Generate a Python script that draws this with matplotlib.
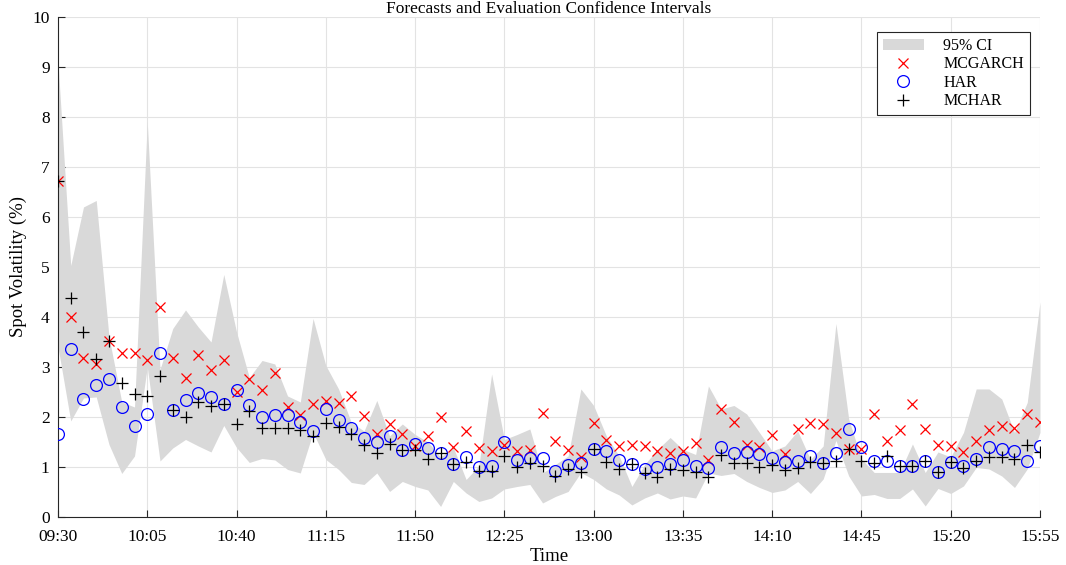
import numpy as np
import pandas as pd
import matplotlib
matplotlib.use("Agg")
import matplotlib.pyplot as plt
from matplotlib.patches import Patch
from matplotlib.lines import Line2D

# 5-minute intraday grid, 09:30 .. 15:55
times = pd.date_range("2000-01-01 09:30", "2000-01-01 15:55", freq="5min")
tick_labels = ["09:30", "10:05", "10:40", "11:15", "11:50", "12:25",
               "13:00", "13:35", "14:10", "14:45", "15:20", "15:55"]

mcgarch = [6.71, 3.99, 3.18, 3.05, 3.52, 3.27, 3.28, 3.13, 4.20, 3.18,
           2.77, 3.23, 2.93, 3.13, 2.49, 2.76, 2.54, 2.87, 2.20, 2.04,
           2.25, 2.31, 2.27, 2.41, 2.02, 1.65, 1.86, 1.65, 1.42, 1.62,
           1.99, 1.40, 1.72, 1.37, 1.32, 1.44, 1.32, 1.34, 2.08, 1.52,
           1.34, 1.20, 1.87, 1.54, 1.42, 1.44, 1.41, 1.32, 1.28, 1.32,
           1.47, 1.14, 2.15, 1.89, 1.43, 1.39, 1.63, 1.25, 1.76, 1.87,
           1.86, 1.68, 1.36, 1.36, 2.06, 1.51, 1.73, 2.26, 1.75, 1.44,
           1.42, 1.30, 1.51, 1.73, 1.81, 1.77, 2.06, 1.89]

har = [1.65, 3.36, 2.35, 2.63, 2.75, 2.19, 1.82, 2.05, 3.27, 2.13,
       2.34, 2.47, 2.40, 2.25, 2.54, 2.23, 2.00, 2.04, 2.04, 1.90,
       1.72, 2.16, 1.94, 1.77, 1.57, 1.50, 1.62, 1.33, 1.45, 1.38,
       1.28, 1.05, 1.20, 1.00, 1.02, 1.49, 1.14, 1.18, 1.18, 0.91,
       1.04, 1.07, 1.35, 1.31, 1.14, 1.06, 0.95, 1.00, 1.06, 1.13,
       1.02, 0.98, 1.39, 1.27, 1.30, 1.25, 1.17, 1.10, 1.12, 1.22,
       1.07, 1.28, 1.76, 1.40, 1.11, 1.12, 1.02, 1.01, 1.12, 0.90,
       1.09, 1.02, 1.16, 1.39, 1.36, 1.32, 1.11, 1.41]

mchar = [6.71, 4.37, 3.69, 3.16, 3.52, 2.67, 2.45, 2.41, 2.82, 2.13,
         2.00, 2.30, 2.21, 2.26, 1.85, 2.12, 1.77, 1.77, 1.78, 1.73,
         1.61, 1.88, 1.80, 1.66, 1.43, 1.28, 1.45, 1.33, 1.34, 1.16,
         1.28, 1.05, 1.10, 0.92, 0.91, 1.22, 0.99, 1.08, 1.02, 0.82,
         0.96, 0.90, 1.35, 1.10, 0.95, 1.06, 0.88, 0.79, 0.95, 0.93,
         0.89, 0.80, 1.24, 1.07, 1.08, 1.00, 1.04, 0.93, 0.98, 1.09,
         1.07, 1.12, 1.36, 1.12, 1.08, 1.22, 1.02, 1.01, 1.12, 0.90,
         1.09, 0.97, 1.12, 1.19, 1.20, 1.16, 1.44, 1.29]

ci_upper = [9.10, 5.03, 6.20, 6.33, 3.60, 2.30, 2.20, 7.90, 2.95, 3.77,
            4.14, 3.80, 3.50, 4.85, 3.70, 2.79, 3.13, 3.06, 2.42, 2.30,
            3.97, 3.03, 2.56, 1.89, 1.72, 2.33, 1.62, 1.86, 1.65, 1.50,
            1.20, 1.39, 0.75, 1.02, 2.86, 1.55, 1.65, 1.76, 0.88, 1.05,
            1.22, 2.56, 2.23, 1.62, 1.22, 0.61, 1.05, 1.35, 1.59, 1.35,
            1.25, 2.62, 2.16, 2.23, 2.06, 1.69, 1.32, 1.42, 1.72, 1.15,
            1.42, 3.87, 1.96, 1.16, 0.89, 0.89, 0.89, 1.46, 0.89, 1.30,
            1.20, 1.69, 2.56, 2.56, 2.36, 1.69, 2.29, 4.30]

ci_lower = [3.40, 1.92, 2.38, 2.40, 1.45, 0.87, 1.22, 3.00, 1.12, 1.38,
            1.55, 1.42, 1.30, 1.83, 1.39, 1.09, 1.17, 1.14, 0.95, 0.88,
            1.69, 1.15, 0.95, 0.69, 0.65, 0.88, 0.51, 0.71, 0.61, 0.54,
            0.21, 0.71, 0.48, 0.31, 0.38, 0.56, 0.61, 0.65, 0.28, 0.41,
            0.51, 0.89, 0.75, 0.56, 0.44, 0.24, 0.38, 0.48, 0.36, 0.42,
            0.38, 0.88, 0.83, 0.87, 0.71, 0.59, 0.49, 0.54, 0.71, 0.47,
            0.76, 1.53, 0.82, 0.42, 0.45, 0.37, 0.37, 0.56, 0.22, 0.57,
            0.47, 0.62, 0.99, 0.96, 0.82, 0.59, 0.96, 1.69]

plt.rcParams["font.family"] = ["Liberation Serif", "DejaVu Serif"]

# minutes after 09:30 as x
x = np.array((times - times[0]).total_seconds() / 60.0)
tick_pos = x[::7]

fig = plt.figure(figsize=(10.66, 5.65), dpi=100)
ax = fig.add_axes([0.0544, 0.085, 0.9212, 0.885])

ax.fill_between(x, ci_lower, ci_upper, color="#d9d9d9", linewidth=0, zorder=1)
ax.plot(x, mcgarch, "x", color="#ff0000", ms=6.5, mew=0.9, zorder=3)
ax.plot(x, har, "o", color="#0000ff", mfc="none", ms=8.5, mew=0.9, zorder=3)
ax.plot(x, mchar, "+", color="black", ms=9, mew=0.9, zorder=4)

ax.set_xlim(x[0], x[-1])
ax.set_ylim(0, 10)
ax.set_xticks(tick_pos)
ax.set_xticklabels(tick_labels)
ax.set_yticks(range(0, 11))
ax.grid(True, color="#e3e3e3", linewidth=0.8, zorder=0)
ax.set_axisbelow(True)
for side in ("top", "right"):
    ax.spines[side].set_visible(False)
for side in ("left", "bottom"):
    ax.spines[side].set_color("#262626")
    ax.spines[side].set_linewidth(0.8)
ax.tick_params(direction="in", length=5, width=0.8, labelsize=12.5,
               colors="#262626", labelcolor="black")
ax.tick_params(axis="x", pad=9)
ax.tick_params(axis="y", pad=6)

ax.set_title("Forecasts and Evaluation Confidence Intervals", fontsize=12.5, pad=1)
ax.set_xlabel("Time", fontsize=13.5, labelpad=2)
ax.set_ylabel("Spot Volatility (%)", fontsize=13.5, labelpad=4)

handles = [
    Patch(facecolor="#d9d9d9", edgecolor="none"),
    Line2D([], [], ls="none", marker="x", color="#ff0000", ms=6.5, mew=0.9),
    Line2D([], [], ls="none", marker="o", color="#0000ff", mfc="none", ms=8.5, mew=0.9),
    Line2D([], [], ls="none", marker="+", color="black", ms=9, mew=0.9),
]
leg = ax.legend(handles, ["95% CI", "MCGARCH", "HAR", "MCHAR"],
                loc="upper right", bbox_to_anchor=(0.9975, 0.985),
                fontsize=11.5, fancybox=False, framealpha=1,
                edgecolor="#262626", handlelength=2.6, handletextpad=1.2,
                labelspacing=0.15, borderpad=0.35)
leg.get_frame().set_linewidth(0.8)

fig.savefig("out.png", dpi=100)
